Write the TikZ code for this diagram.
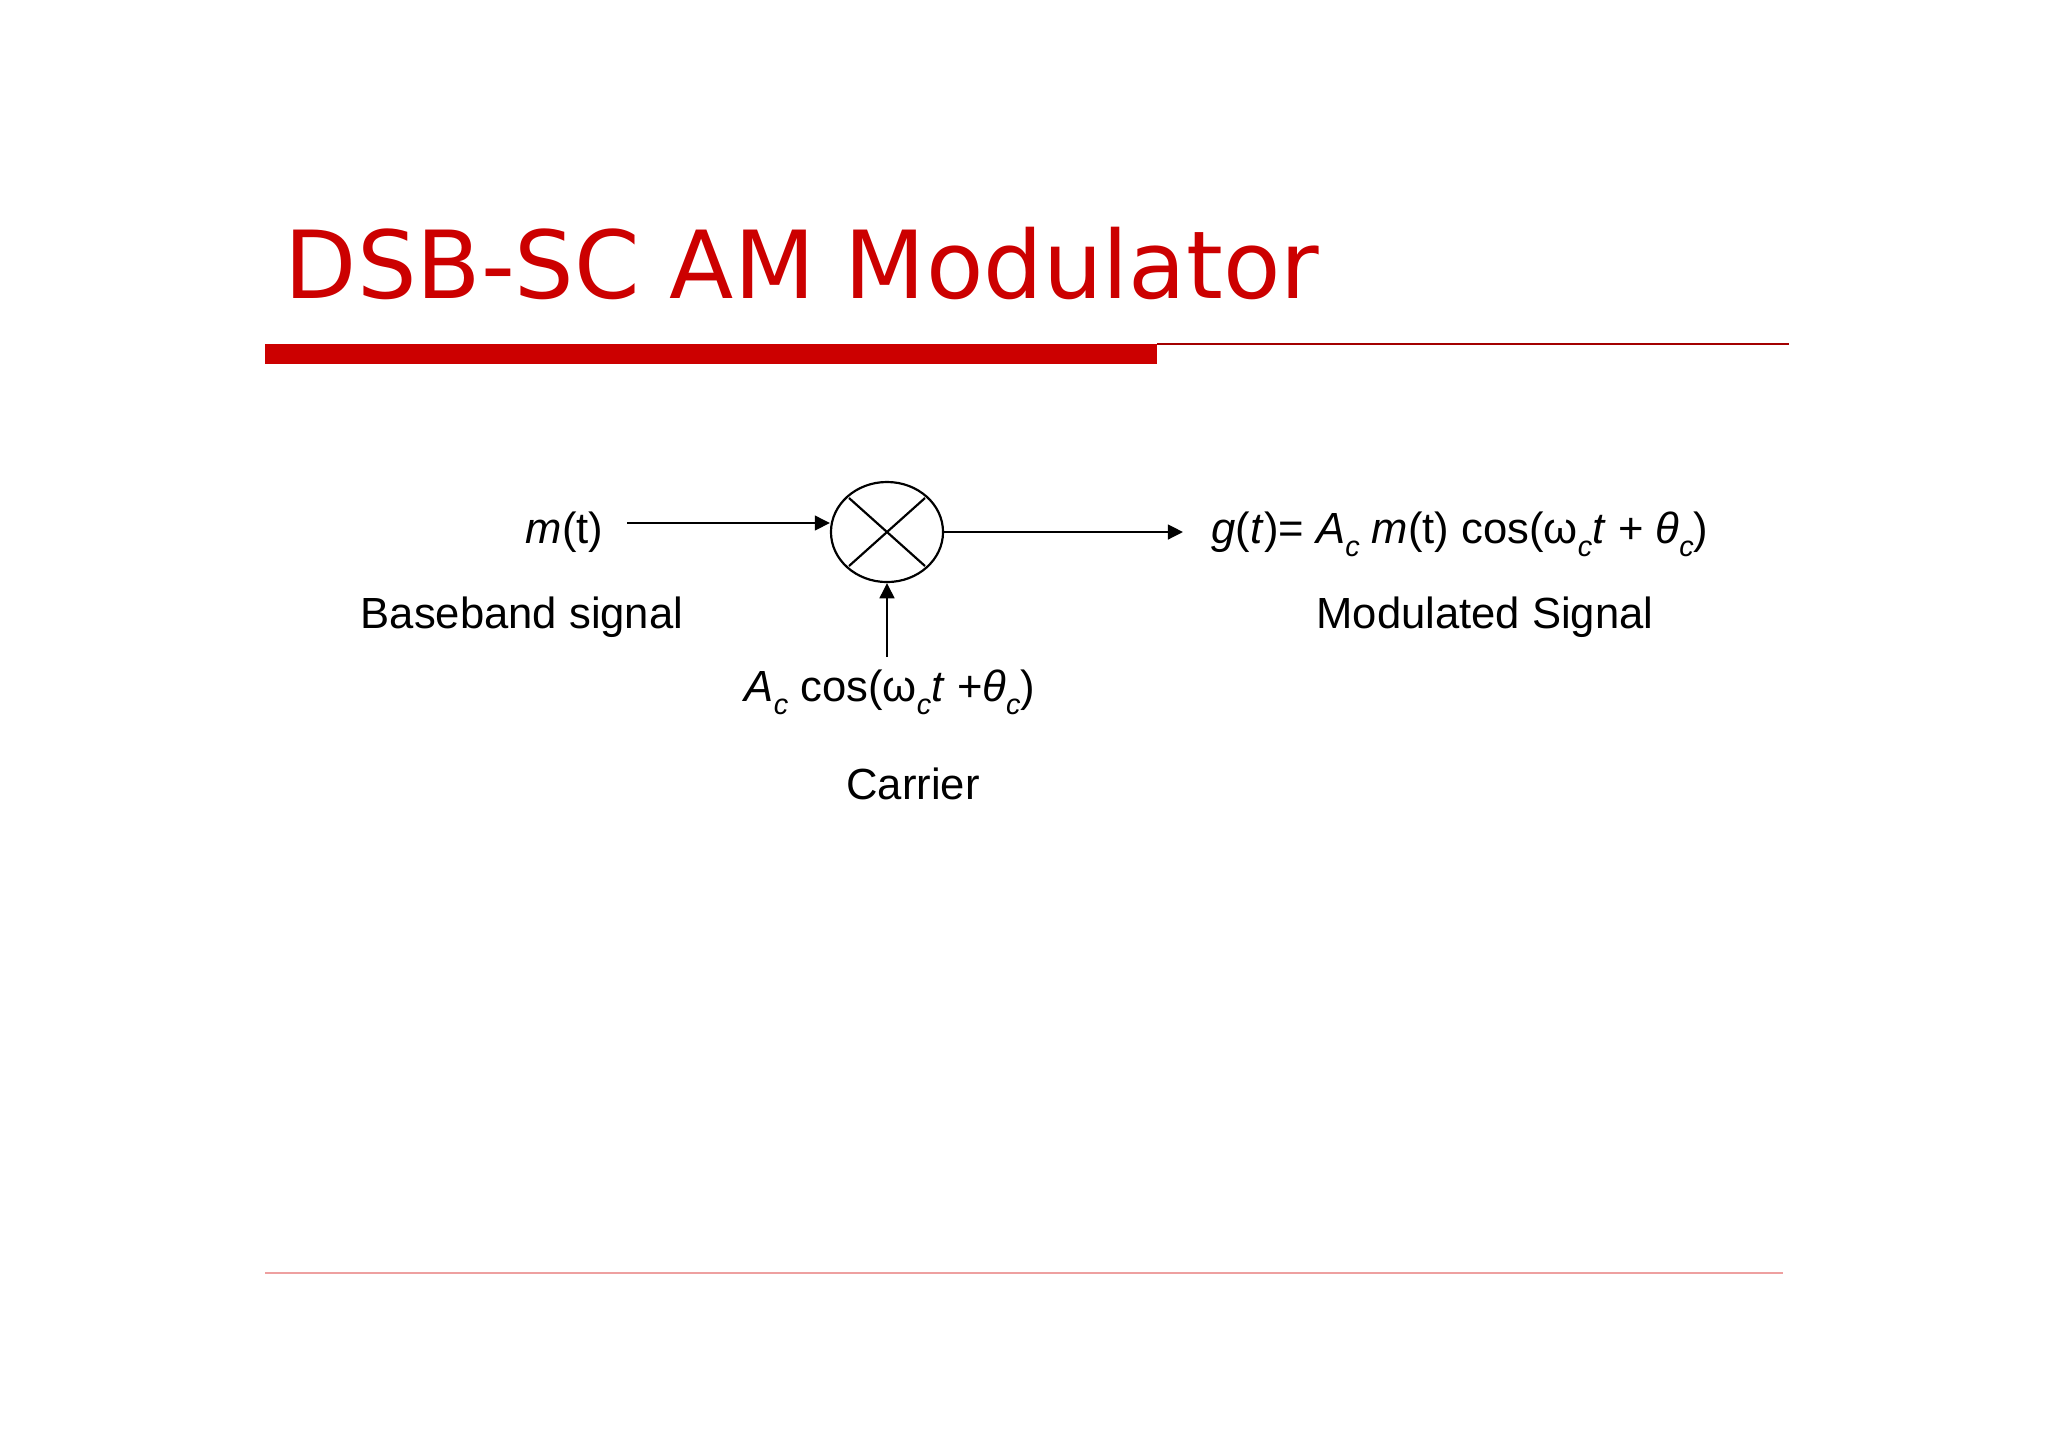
\documentclass[tikz,border=0pt]{standalone}
\usepackage{fontspec}
\setmainfont{Liberation Sans}
\newfontfamily\titlefont{DejaVu Sans}
\usepackage{xcolor}
\usetikzlibrary{arrows.meta}
\usetikzlibrary{shapes.geometric}
\definecolor{slidered}{RGB}{204, 0, 0}
\definecolor{lightred}{RGB}{238, 160, 160}
\newcommand{\subc}{\raisebox{-0.32em}{\fontsize{8.2pt}{8.2pt}\selectfont\textit{c}}}

\begin{document}
\begin{tikzpicture}[x=0.01cm, y=-0.01cm,
  lbl/.style={inner sep=0pt, font=\fontsize{12.4pt}{14pt}\selectfont},
  sig/.style={line width=0.62pt, -{Triangle[length=4.3pt,width=4.2pt]}},
  mixer/.style={ellipse, draw, line width=0.62pt, minimum width=1.12cm, minimum height=1cm, inner sep=0pt}]

  \useasboundingbox (0,0) rectangle (2048,1447);
  \fill[white] (0,0) rectangle (2048,1447);

  % title and rules
  \node[slidered, anchor=base west, inner sep=0pt, font=\titlefont\fontsize{26.7pt}{30pt}\selectfont] (title) at (284,298) {DSB-SC AM Modulator};
  \fill[slidered] (265,344) rectangle (1157,364);
  \draw[slidered!80!black, line width=0.6pt] (1157,344) -- (1789,344);
  \draw[lightred, line width=0.7pt] (265,1273) -- (1783,1273);

  % multiplier
  \node[mixer] (mult) at (887,532) {};
  \draw[line width=0.62pt] ([shift={(-38,-34)}]mult.center) -- ([shift={(38,34)}]mult.center);
  \draw[line width=0.62pt] ([shift={(38,-34)}]mult.center) -- ([shift={(-38,34)}]mult.center);

  % labels
  \node[lbl, anchor=base west] (msg) at (525,543) {\textit{m}(t)};
  \node[lbl, anchor=base] (baseband) at (522,628) {Baseband signal};
  \node[lbl, anchor=base] (carrier) at (890,701) {\textit{A}\subc{} cos(ω\subc\textit{t} +\textit{θ}\subc)};
  \node[lbl, anchor=base] (carlbl) at (913,799) {Carrier};
  \node[lbl, anchor=base west] (gt) at (1211,543) {\textit{g}(\textit{t})= \textit{A}\subc{} \textit{m}(t) cos(ω\subc\textit{t} + \textit{θ}\subc)};
  \node[lbl, anchor=base] (modlbl) at (1485,628) {Modulated Signal};

  % signals
  \coordinate (in) at (627,523);
  \coordinate (out) at (1183,532);
  \coordinate (cin) at (887,657);
  \draw[sig] (in) -- (in -| mult.west);
  \draw[sig] (mult.east) -- (out);
  \draw[sig] (cin) -- (mult.south);

\end{tikzpicture}
\end{document}
